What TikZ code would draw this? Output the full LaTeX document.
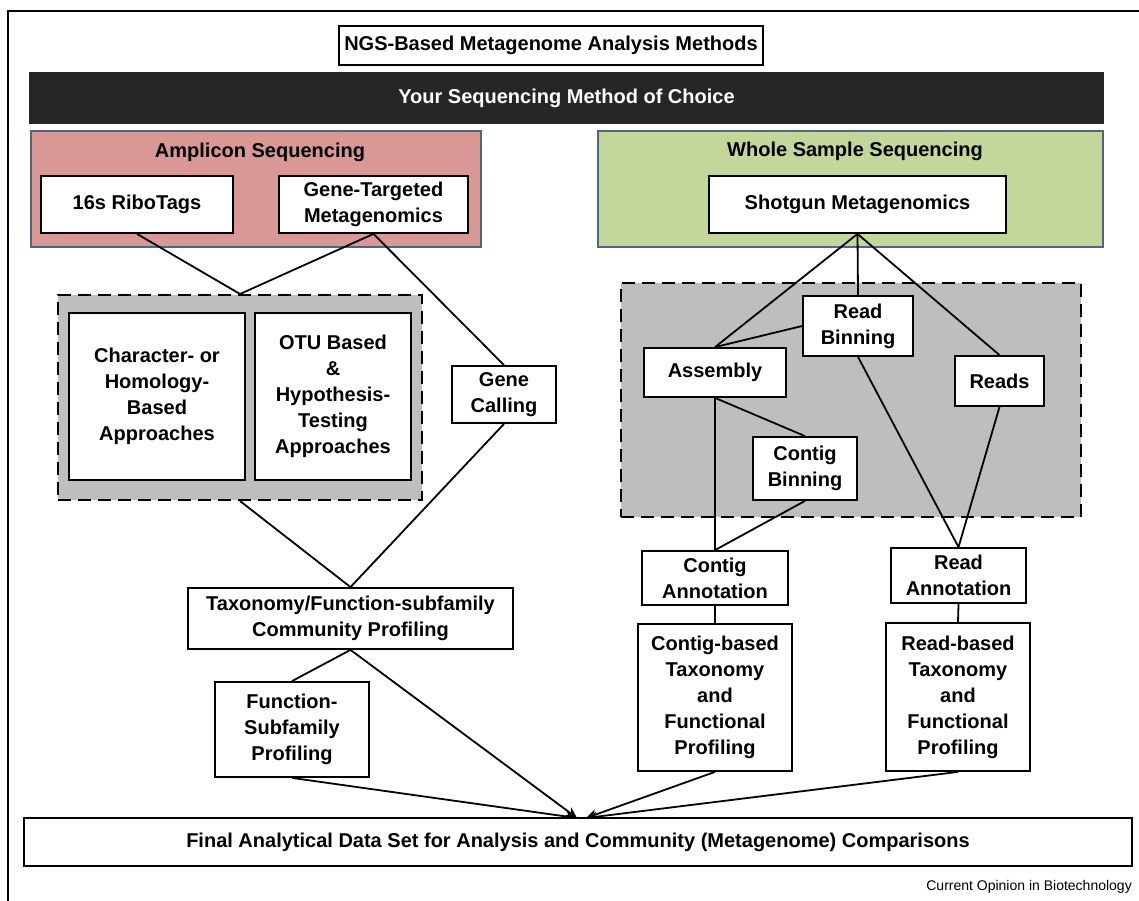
\documentclass[tikz,border=0pt]{standalone}
\usepackage{fontspec}
\setmainfont{Liberation Sans}
\usetikzlibrary{arrows.meta}
\pgfdeclarelayer{bg}
\pgfdeclarelayer{lines}
\pgfsetlayers{bg,lines,main}
\definecolor{pinkfill}{HTML}{D99795}
\definecolor{greenfill}{HTML}{C4D79B}
\definecolor{panelborder}{HTML}{506584}
\definecolor{grayfill}{HTML}{BEBEBE}
\definecolor{barfill}{HTML}{262626}
\tikzset{
  box/.style={draw, line width=1.8pt, fill=white, align=center, inner sep=0pt,
    font=\bfseries\fontsize{20}{26}\selectfont},
  panel/.style={draw=panelborder, line width=1.8pt, inner sep=0pt},
  grayarea/.style={draw, fill=grayfill, line width=2pt, dash pattern=on 13pt off 7pt, inner sep=0pt},
  conn/.style={line width=1.8pt},
  arr/.style={line width=1.8pt, -{Stealth[length=11pt,width=10pt]}},
  paneltitle/.style={font=\bfseries\fontsize{20}{26}\selectfont, inner sep=0pt}
}
\begin{document}
\begin{tikzpicture}[x=1pt, y=-1pt]
\useasboundingbox (0,0) rectangle (1139,901);

\node[box, minimum width=424, minimum height=39] (title) at (551,45.5) {NGS-Based Metagenome Analysis Methods};
\node[box, draw=barfill, fill=barfill, text=white, minimum width=1073, minimum height=50] (bar) at (566.5,98) {Your Sequencing Method of Choice};

\node[box, minimum width=192, minimum height=57] (rib) at (137,204.5) {16s RiboTags};
\node[box, minimum width=189, minimum height=57] (gtm) at (373.5,204.5) {Gene-Targeted\\Metagenomics};
\node[box, minimum width=297, minimum height=57] (shot) at (857.5,204.5) {Shotgun Metagenomics};

\node[box, minimum width=176, minimum height=167] (char) at (157,396.5) {Character- or\\Homology-\\Based\\Approaches};
\node[box, minimum width=156, minimum height=167] (otu) at (333,396.5) {OTU Based\\\&\\Hypothesis-\\Testing\\Approaches};
\node[box, minimum width=104, minimum height=57] (gcall) at (504,394.5) {Gene\\Calling};

\node[box, minimum width=325, minimum height=61] (tax) at (350.5,618.5) {Taxonomy/Function-subfamily\\Community Profiling};
\node[box, minimum width=154, minimum height=95] (fsp) at (292,729.5) {Function-\\Subfamily\\Profiling};

\node[box, minimum width=110, minimum height=60] (rbin) at (858,326) {Read\\Binning};
\node[box, minimum width=142, minimum height=49] (asm) at (715,372.5) {Assembly};
\node[box, minimum width=89, minimum height=50] (reads) at (999.5,381) {Reads};
\node[box, minimum width=104, minimum height=63] (cbin) at (805,468.5) {Contig\\Binning};

\node[box, minimum width=146, minimum height=54] (cann) at (715,578) {Contig\\Annotation};
\node[box, minimum width=135, minimum height=55] (rann) at (958.5,575.5) {Read\\Annotation};
\node[box, minimum width=154, minimum height=147] (cbased) at (715,697.5) {Contig-based\\Taxonomy\\and\\Functional\\Profiling};
\node[box, minimum width=144, minimum height=148] (rbased) at (958,697) {Read-based\\Taxonomy\\and\\Functional\\Profiling};

\node[box, minimum width=1108, minimum height=48] (final) at (578,842) {Final Analytical Data Set for Analysis and Community (Metagenome) Comparisons};

\node[anchor=east, inner sep=0pt, font=\fontsize{14}{16}\selectfont] (credit) at (1132,887) {Current Opinion in Biotechnology};

\coordinate (tipL) at (577,818);
\coordinate (tipR) at (586,818);

\begin{pgfonlayer}{bg}
\fill[white] (0,0) rectangle (1139,901);
\draw[line width=1.5pt] (8,901) -- (8,11) -- (1139,11);
\node[panel, fill=pinkfill, minimum width=450, minimum height=116] (amp) at (256,189) {};
\node[panel, fill=greenfill, minimum width=505, minimum height=116] (wss) at (850.5,189) {};
\node[grayarea, minimum width=364, minimum height=205] (lgray) at (240,397.5) {};
\node[grayarea, minimum width=460, minimum height=234] (rgray) at (851,400) {};
\end{pgfonlayer}

\node[paneltitle] (amptitle) at (260,152) {Amplicon Sequencing};
\node[paneltitle] (wsstitle) at (855,151) {Whole Sample Sequencing};

\begin{pgfonlayer}{lines}
\draw[conn] (rib.south) -- (lgray.north);
\draw[conn] (gtm.south) -- (lgray.north);
\draw[conn] (gtm.south) -- (gcall.north);
\draw[conn] (lgray.south) -- (tax.north);
\draw[conn] (gcall.south) -- (tax.north);
\draw[conn] (tax.south) -- (fsp.north);
\draw[arr] (tax.south) -- (tipL);
\draw[arr] (fsp.south) -- (tipL);

\draw[conn] (shot.south) -- (asm.north);
\draw[conn] (shot.south) -- (rbin.north);
\draw[conn] (shot.south) -- (reads.north);
\draw[conn] (asm.north) -- (rbin.west);
\draw[conn] (asm.south) -- (cann.north);
\draw[conn] (asm.south) -- (cbin.north);
\draw[conn] (cbin.south) -- (cann.north);
\draw[conn] (rbin.south) -- (rann.north);
\draw[conn] (reads.south) -- (rann.north);
\draw[conn] (cann.south) -- (cbased.north);
\draw[conn] (rann.south) -- (rbased.north);
\draw[arr] (cbased.south) -- (tipR);
\draw[arr] (rbased.south) -- (tipR);
\end{pgfonlayer}
\end{tikzpicture}
\end{document}
